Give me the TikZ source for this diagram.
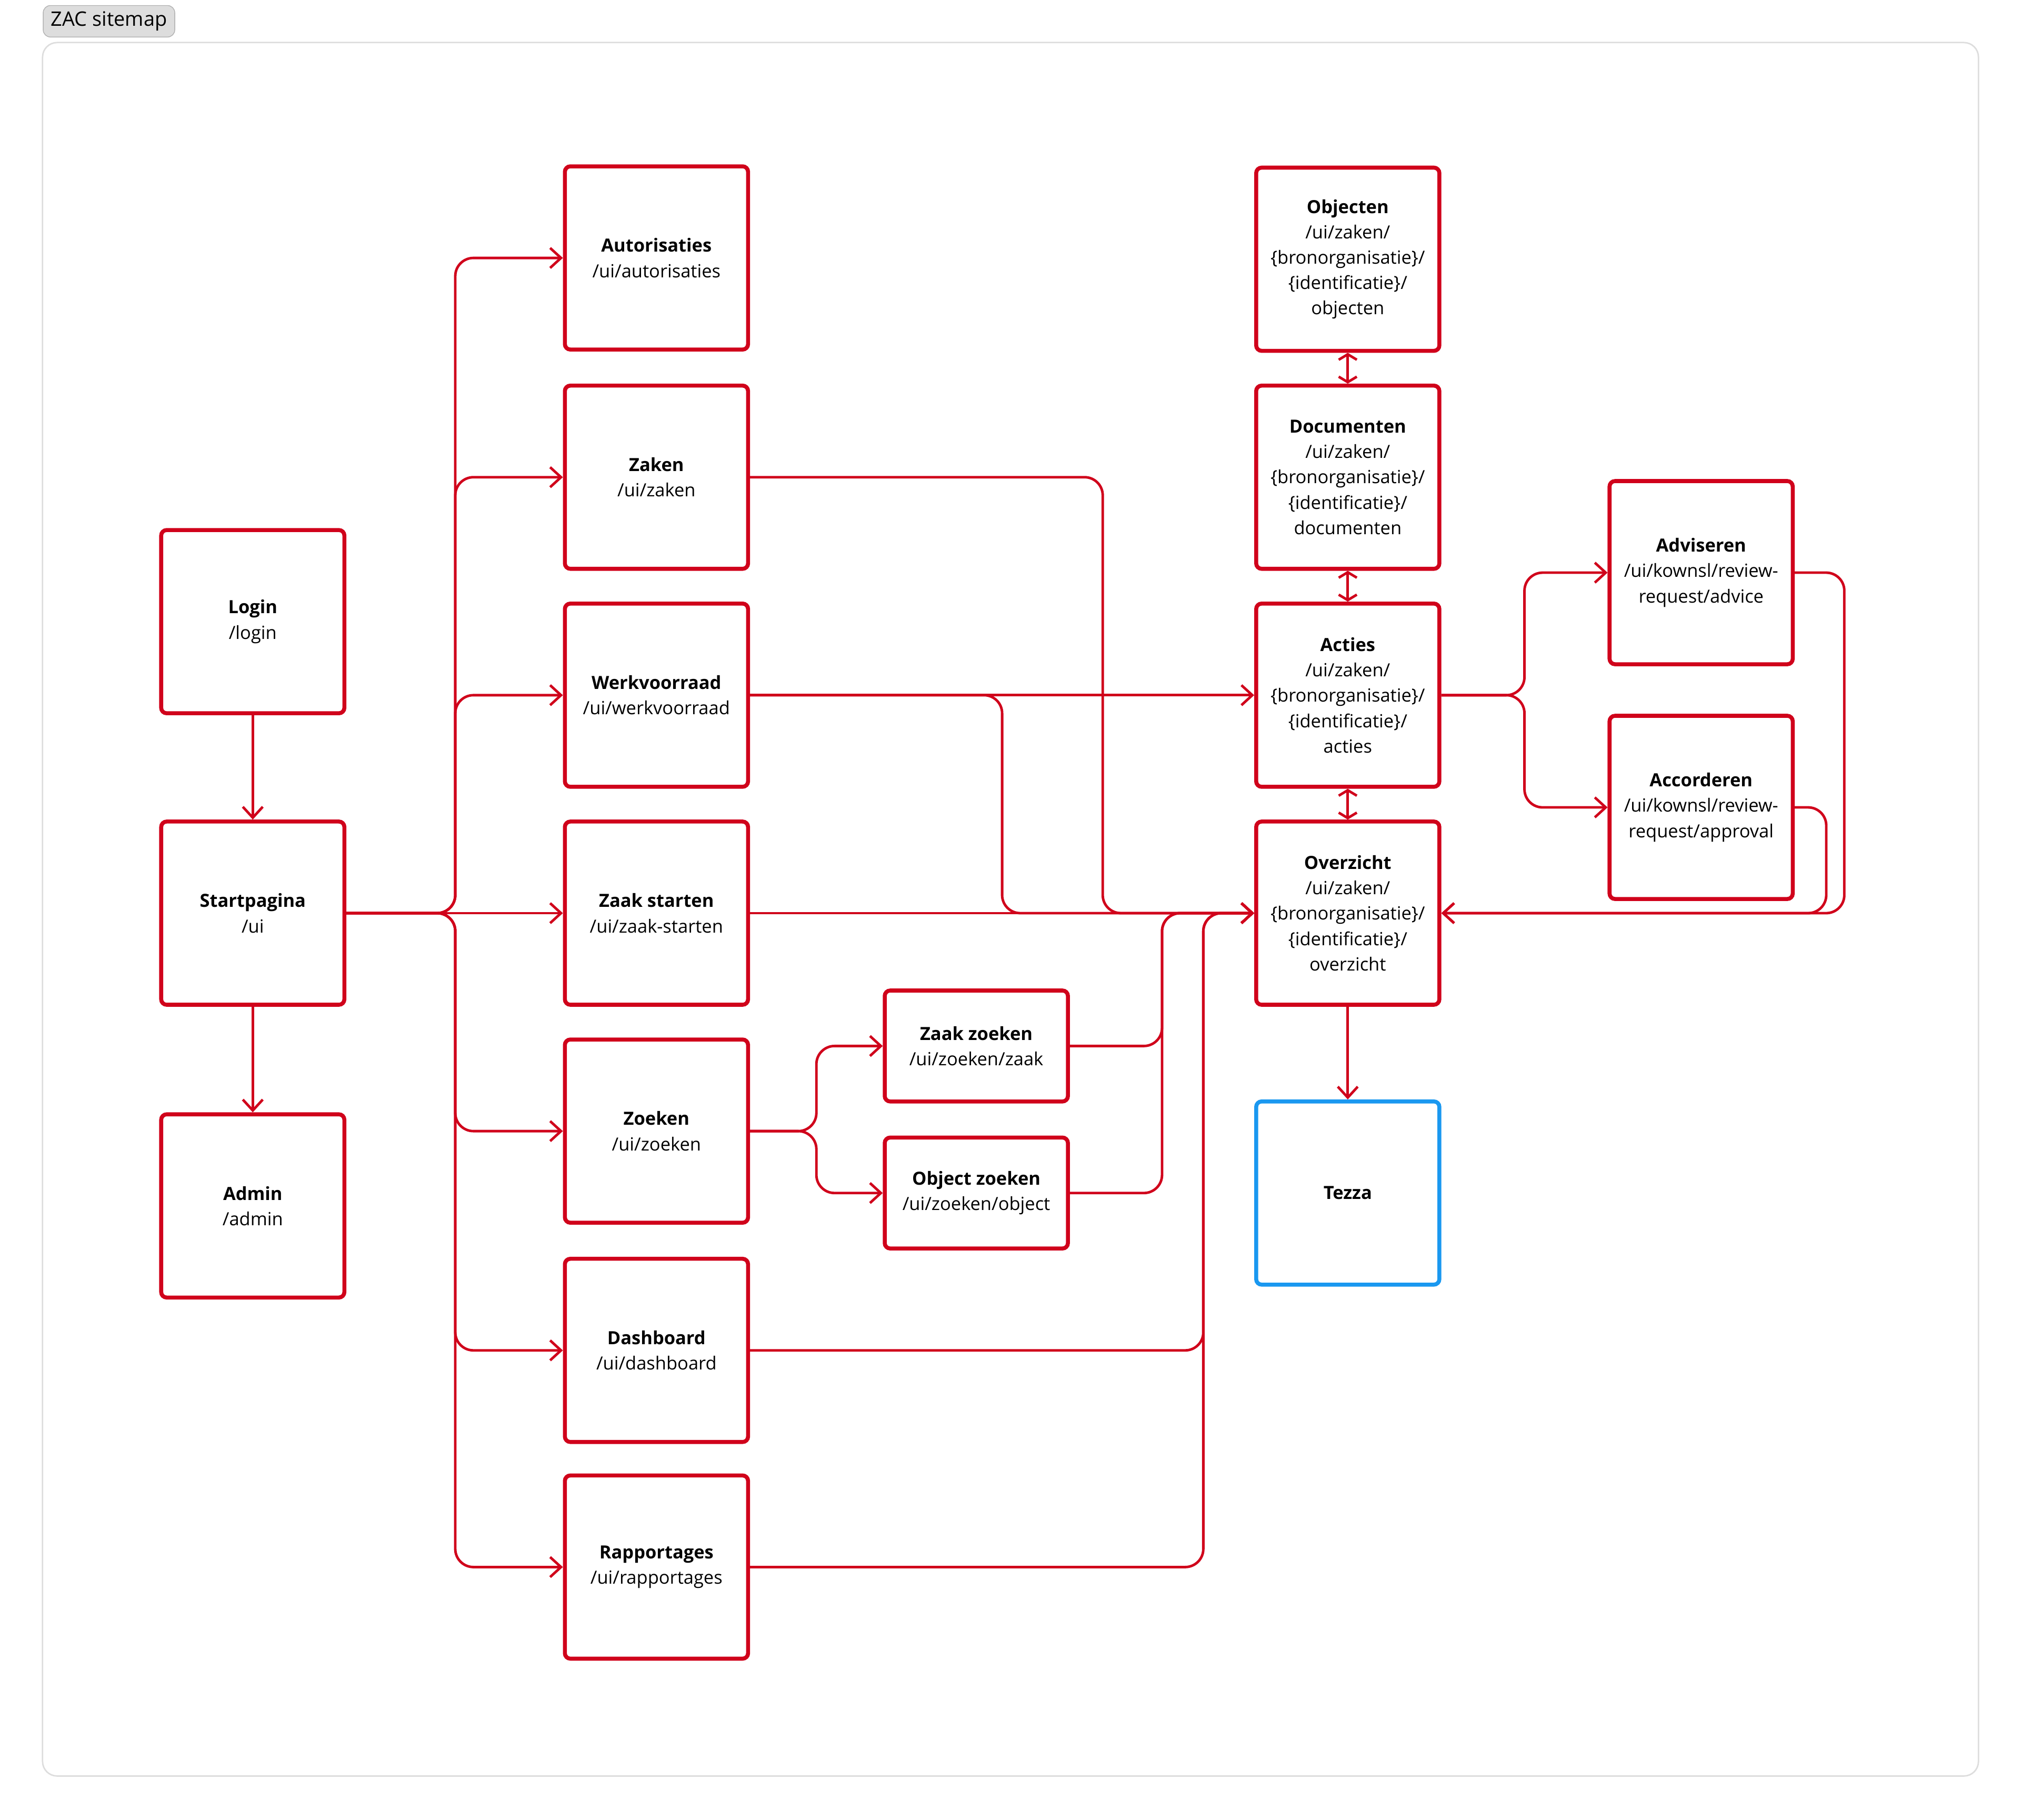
\documentclass[tikz,border=0pt]{standalone}
\usepackage{fontspec}
\setmainfont{Open Sans}
\usetikzlibrary{arrows.meta,positioning}
\definecolor{zacred}{HTML}{D0021B}
\definecolor{zacblue}{HTML}{1A98F0}
\definecolor{framegray}{HTML}{DDDDDD}
\tikzset{
	page/.style={draw=zacred, line width=2.2pt, rounded corners=3pt, align=center,
			font=\fontsize{10}{14}\selectfont, inner sep=0pt},
	bigpage/.style={page, minimum width=3.55cm, minimum height=3.55cm},
	smallpage/.style={page, minimum width=3.55cm, minimum height=2.15cm},
	extpage/.style={bigpage, draw=zacblue},
	conn/.style={draw=zacred, line width=1.4pt, rounded corners=10pt, -{Straight Barb[length=6pt,width=11pt]}},
	twoway/.style={draw=zacred, line width=1.4pt, {Straight Barb[length=3pt,width=10pt]}-{Straight Barb[length=3pt,width=10pt]}}
}
\begin{document}
\begin{tikzpicture}[x=0.025cm, y=-0.025cm]
\useasboundingbox (0,0) rectangle (1567,1411);
% Frame and title
\draw[framegray, line width=0.8pt, rounded corners=8pt] (33,33) rectangle (1534,1377);
\node[draw=framegray!80!black, fill=framegray, rounded corners=4pt, minimum width=2.55cm, minimum height=0.55cm,
	font=\fontsize{11}{13}\selectfont] (title) at (84.5,16.5) {ZAC sitemap};
% Left column
\node[bigpage] (login) at (196,482) {\textbf{Login}\\/login};
\node[bigpage] (start) at (196,708) {\textbf{Startpagina}\\/ui};
\node[bigpage] (admin) at (196,935) {\textbf{Admin}\\/admin};
% Second column
\node[bigpage] (autor) at (509,200) {\textbf{Autorisaties}\\/ui/autorisaties};
\node[bigpage] (zaken) at (509,370) {\textbf{Zaken}\\/ui/zaken};
\node[bigpage] (werk) at (509,539) {\textbf{Werkvoorraad}\\/ui/werkvoorraad};
\node[bigpage] (starten) at (509,708) {\textbf{Zaak starten}\\/ui/zaak-starten};
\node[bigpage] (zoeken) at (509,877) {\textbf{Zoeken}\\/ui/zoeken};
\node[bigpage] (dash) at (509,1047) {\textbf{Dashboard}\\/ui/dashboard};
\node[bigpage] (rapport) at (509,1215) {\textbf{Rapportages}\\/ui/rapportages};
% Search pages
\node[smallpage] (zaakzoek) at (757,811) {\textbf{Zaak zoeken}\\/ui/zoeken/zaak};
\node[smallpage] (objzoek) at (757,925) {\textbf{Object zoeken}\\/ui/zoeken/object};
% Zaak detail column
\node[bigpage] (objecten) at (1045,201) {\textbf{Objecten}\\/ui/zaken/\\\{bronorganisatie\}/\\\{identificatie\}/\\objecten};
\node[bigpage] (docs) at (1045,370) {\textbf{Documenten}\\/ui/zaken/\\\{bronorganisatie\}/\\\{identificatie\}/\\documenten};
\node[bigpage] (acties) at (1045,539) {\textbf{Acties}\\/ui/zaken/\\\{bronorganisatie\}/\\\{identificatie\}/\\acties};
\node[bigpage] (overz) at (1045,708) {\textbf{Overzicht}\\/ui/zaken/\\\{bronorganisatie\}/\\\{identificatie\}/\\overzicht};
\node[extpage] (tezza) at (1045,925) {\textbf{Tezza}};
% Review pages
\node[bigpage] (advis) at (1319,444) {\textbf{Adviseren}\\/ui/kownsl/review-\\request/advice};
\node[bigpage] (accord) at (1319,626) {\textbf{Accorderen}\\/ui/kownsl/review-\\request/approval};
% Bends
\coordinate (trunk) at (353,708);
\coordinate (zakbend) at (855,708);
\coordinate (werkbend) at (777,708);
\coordinate (zoekbend) at (633,877);
\coordinate (searchbend) at (901,708);
\coordinate (dashbend) at (933,708);
\coordinate (actbend) at (1182,539);
\coordinate (advbend) at (1430,708);
\coordinate (accbend) at (1416,708);
% Connectors
\draw[conn] (login) -- (start);
\draw[conn] (start) -- (admin);
\foreach \to in {autor,zaken,werk,zoeken,dash,rapport}
	\draw[conn] (start.east) -- (trunk) |- (\to.west);
\draw[conn] (start.east) -- (starten.west);
\draw[conn] (starten.east) -- (overz.west);
\draw[conn] (zaken.east) -| (zakbend) -- (overz.west);
\draw[conn] (werk.east) -- (acties.west);
\draw[conn] (werk.east) -| (werkbend) -- (overz.west);
\draw[conn] (zoeken.east) -- (zoekbend) |- (zaakzoek.west);
\draw[conn] (zoeken.east) -- (zoekbend) |- (objzoek.west);
\draw[conn] (zaakzoek.east) -| (searchbend) -- (overz.west);
\draw[conn] (objzoek.east) -| (searchbend) -- (overz.west);
\draw[conn] (dash.east) -| (dashbend) -- (overz.west);
\draw[conn] (rapport.east) -| (dashbend) -- (overz.west);
\draw[conn] (acties.east) -- (actbend) |- (advis.west);
\draw[conn] (acties.east) -- (actbend) |- (accord.west);
\draw[conn] (advis.east) -| (advbend) -- (overz.east);
\draw[conn] (accord.east) -| (accbend) -- (overz.east);
\draw[conn] (overz) -- (tezza);
\draw[twoway] (objecten) -- (docs);
\draw[twoway] (docs) -- (acties);
\draw[twoway] (acties) -- (overz);
\end{tikzpicture}
\end{document}
